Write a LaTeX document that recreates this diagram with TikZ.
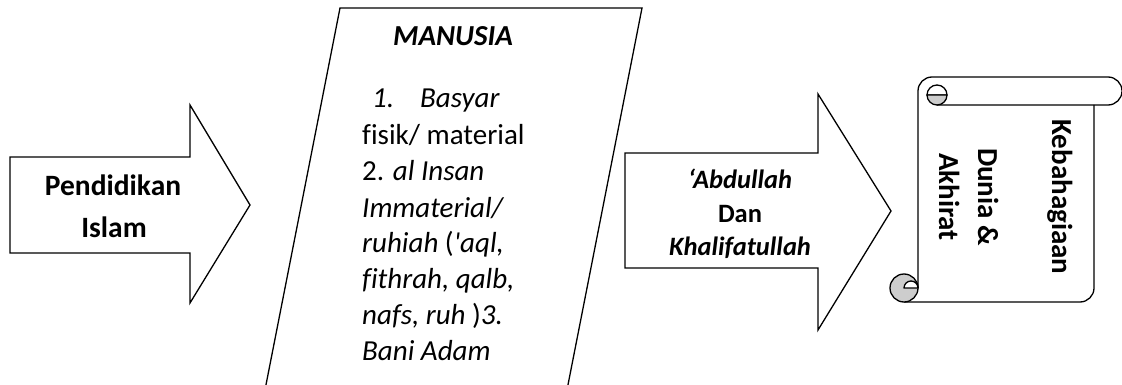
\documentclass[tikz,border=0pt]{standalone}
\usepackage{fontspec}
\setmainfont{Carlito}[Ligatures={TeX,NoCommon}]
\definecolor{curlgray}{HTML}{CDCDCD}
\begin{document}
\begin{tikzpicture}[x=1pt,y=-1pt]
\tikzset{
  shapeline/.style={draw=black, line width=1.3pt, line join=miter, fill=white},
  scrollline/.style={draw=black, line width=1.3pt, line join=round},
  bigtxt/.style={inner sep=0pt, anchor=base, font=\bfseries\fontsize{29.5}{36}\selectfont},
  listtxt/.style={inner sep=0pt, anchor=base west, font=\fontsize{29}{36}\selectfont},
  titletxt/.style={inner sep=0pt, anchor=base, font=\bfseries\itshape\fontsize{29}{36}\selectfont},
  midtxt/.style={inner sep=0pt, anchor=base, font=\bfseries\fontsize{26.5}{33}\selectfont},
  scrolltxt/.style={inner sep=0pt, anchor=base, rotate=-90, font=\bfseries\fontsize{29}{36}\selectfont}
}
\useasboundingbox (0,0) rectangle (1122,385);
\clip (0,0) rectangle (1122,385);
\fill[white] (0,0) rectangle (1122,385);

% left block arrow
\draw[shapeline] (10,157) -- (190,157) -- (190,105) -- (250,205) -- (190,303) -- (190,253) -- (10,253) -- cycle;
\node[bigtxt] (pend) at (113,196) {Pendidikan};
\node[bigtxt] (islam) at (114,237) {Islam};

% parallelogram
\draw[shapeline] (340,8) -- (642,8) -- (565,400) -- (263,400) -- cycle;
\node[titletxt] (manusia) at (453,46) {MANUSIA};
\node[listtxt] (l1) at (372,108) {\textit{1.}\hspace*{26pt}\textit{Basyar}};
\node[listtxt] (l2) at (362,145) {fisik/ material};
\node[listtxt] (l3) at (362,181) {2. \textit{al Insan}};
\node[listtxt] (l4) at (362,217) {\textit{Immaterial/}};
\node[listtxt] (l5) at (362,252) {\textit{ruhiah} (\textit{\textquotesingle aql,}};
\node[listtxt] (l6) at (362,288) {\textit{fithrah, qalb,}};
\node[listtxt] (l7) at (362,324) {\textit{nafs, ruh })\textit{3.}};
\node[listtxt] (l8) at (362,360) {\textit{Bani Adam}};

% middle block arrow
\draw[shapeline] (625,153) -- (818,153) -- (818,94) -- (891,211) -- (818,330) -- (818,268) -- (625,268) -- cycle;
\node[midtxt] (abd) at (740,189) {\textit{`Abdullah}};
\node[midtxt] (dan) at (740,222) {Dan};
\node[midtxt] (khal) at (740,255) {\textit{Khalifatullah}};

% vertical scroll
\draw[scrollline] (918,288) -- (918,91) arc[start angle=180, end angle=270, radius=14]
  -- (1108,77) arc[start angle=270, end angle=450, radius=14] -- (937,105);
\draw[scrollline] (1094,105) -- (1094,288) arc[start angle=0, end angle=90, radius=14] -- (904,302);
% top curl
\draw[scrollline, fill=white] (927,95) arc[start angle=180, end angle=360, radius=10] -- cycle;
\draw[scrollline, fill=curlgray] (927,95) arc[start angle=180, end angle=0, radius=10] -- cycle;
% bottom curl
\draw[scrollline, fill=curlgray] (904,288) circle[radius=14];
\draw[scrollline, fill=white] (904,288) arc[start angle=180, end angle=360, radius=7] -- cycle;

\node[scrolltxt] (keb) at (1052,197) {Kebahagiaan};
\node[scrolltxt] (dun) at (978,197) {Dunia \&};
\node[scrolltxt] (akh) at (939,197) {Akhirat};
\end{tikzpicture}
\end{document}
